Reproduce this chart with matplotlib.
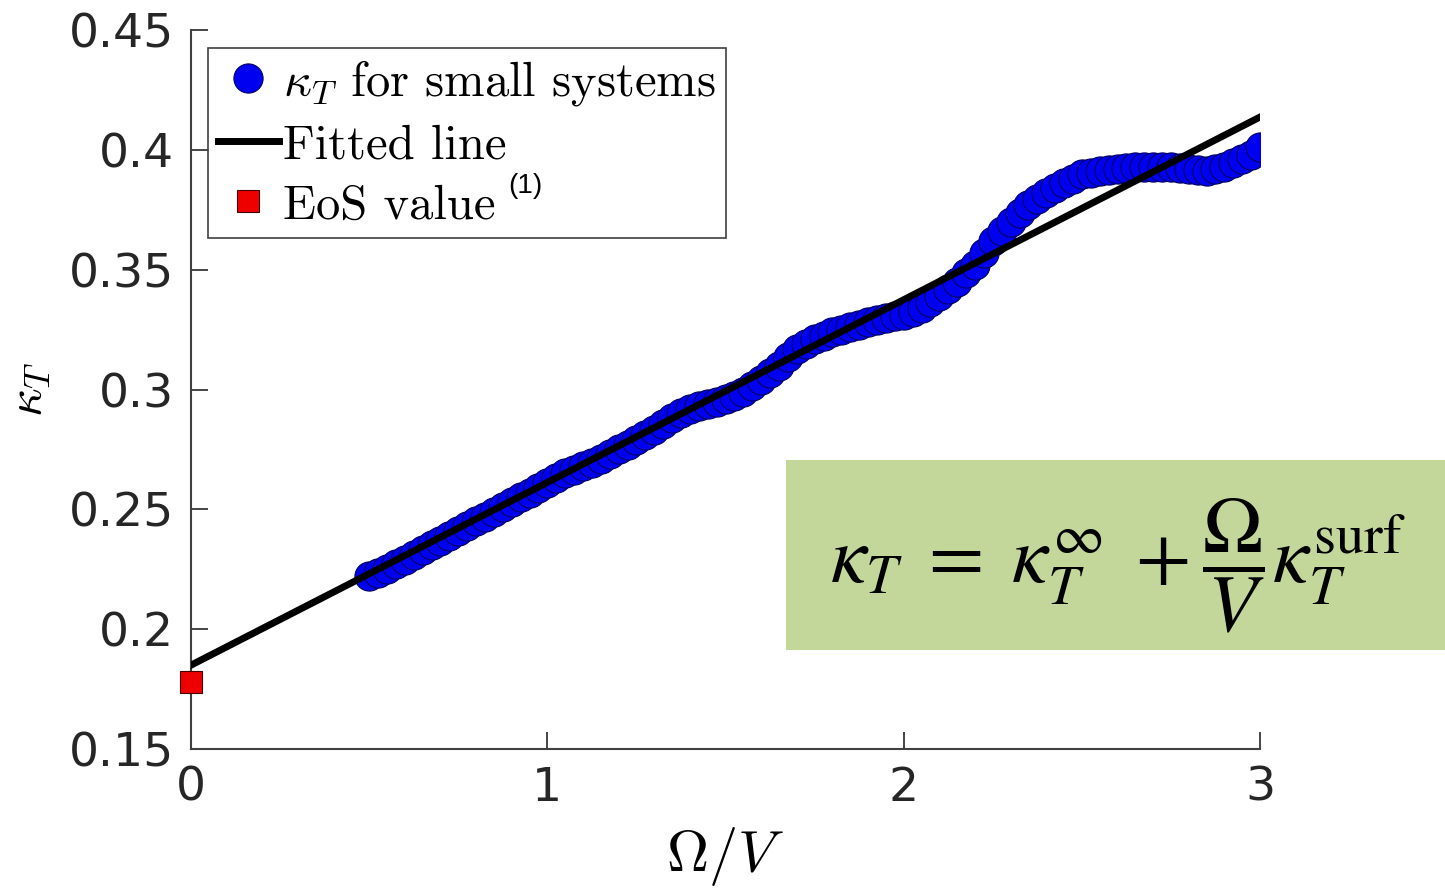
import matplotlib.pyplot as plt
from matplotlib.patches import Rectangle

# dados
x_small = [0.500, 0.525, 0.550, 0.575, 0.600, 0.625, 0.650, 0.675, 0.700, 0.725,
           0.750, 0.775, 0.800, 0.825, 0.850, 0.875, 0.900, 0.925, 0.950, 0.975,
           1.000, 1.025, 1.050, 1.075, 1.100, 1.125, 1.150, 1.175, 1.200, 1.225,
           1.250, 1.275, 1.300, 1.325, 1.350, 1.375, 1.400, 1.425, 1.450, 1.475,
           1.500, 1.525, 1.550, 1.575, 1.600, 1.625, 1.650, 1.675, 1.700, 1.725,
           1.750, 1.775, 1.800, 1.825, 1.850, 1.875, 1.900, 1.925, 1.950, 1.975,
           2.000, 2.025, 2.050, 2.075, 2.100, 2.125, 2.150, 2.175, 2.200, 2.225,
           2.250, 2.275, 2.300, 2.325, 2.350, 2.375, 2.400, 2.425, 2.450, 2.475,
           2.500, 2.525, 2.550, 2.575, 2.600, 2.625, 2.650, 2.675, 2.700, 2.725,
           2.750, 2.775, 2.800, 2.825, 2.850, 2.875, 2.900, 2.925, 2.950, 2.975, 3.000]
kappa_small = [0.2220, 0.2235, 0.2250, 0.2270, 0.2290, 0.2310, 0.2330, 0.2350, 0.2370, 0.2390,
               0.2410, 0.2430, 0.2450, 0.2470, 0.2490, 0.2510, 0.2530, 0.2550, 0.2570, 0.2590,
               0.2610, 0.2630, 0.2650, 0.2665, 0.2680, 0.2695, 0.2710, 0.2730, 0.2750, 0.2770,
               0.2790, 0.2810, 0.2830, 0.2855, 0.2880, 0.2900, 0.2920, 0.2930, 0.2940, 0.2950,
               0.2960, 0.2975, 0.2990, 0.3015, 0.3040, 0.3070, 0.3100, 0.3135, 0.3170, 0.3190,
               0.3210, 0.3225, 0.3240, 0.3250, 0.3260, 0.3270, 0.3280, 0.3290, 0.3300, 0.3305,
               0.3310, 0.3325, 0.3340, 0.3365, 0.3390, 0.3420, 0.3450, 0.3485, 0.3520, 0.3570,
               0.3620, 0.3660, 0.3700, 0.3735, 0.3770, 0.3795, 0.3820, 0.3840, 0.3860, 0.3880,
               0.3900, 0.3905, 0.3910, 0.3915, 0.3920, 0.3925, 0.3930, 0.3930, 0.3930, 0.3930,
               0.3930, 0.3925, 0.3920, 0.3915, 0.3910, 0.3920, 0.3930, 0.3945, 0.3960, 0.3980, 0.4010]

x_fit = [0.0, 3.0]
kappa_fit = [0.185, 0.4137]

x_eos = [0.0]
kappa_eos = [0.178]

xticks = [0, 1, 2, 3]
yticks = [0.15, 0.2, 0.25, 0.3, 0.35, 0.4, 0.45]
ytick_labels = ["0.15", "0.2", "0.25", "0.3", "0.35", "0.4", "0.45"]

plt.rcParams['mathtext.fontset'] = 'cm'

fig = plt.figure(figsize=(14.45, 8.88), dpi=100)
ax = fig.add_axes([0.1322, 0.1565, 0.7398, 0.8097])

ax.plot(x_small, kappa_small, 'o', color='#0000f0', markeredgecolor='#000060',
        markeredgewidth=0.8, markersize=21, label=r"$\kappa_T$ for small systems", zorder=2)
ax.plot(x_fit, kappa_fit, color='black', linewidth=5, label="Fitted line", zorder=3)
ax.plot(x_eos, kappa_eos, 's', color='#ee0000', markeredgecolor='#400000',
        markeredgewidth=0.8, markersize=16, label="EoS value", zorder=4, clip_on=False)

ax.set_xlim(0, 3)
ax.set_ylim(0.15, 0.45)
ax.set_xticks(xticks)
ax.set_xticklabels([str(t) for t in xticks])
ax.set_yticks(yticks)
ax.set_yticklabels(ytick_labels)
ax.tick_params(direction='in', length=12, width=1.2, labelsize=34, colors='#262626', pad=12)
for s in ['top', 'right']:
    ax.spines[s].set_visible(False)
for s in ['left', 'bottom']:
    ax.spines[s].set_color('#404040')
    ax.spines[s].set_linewidth(1.5)

ax.set_xlabel(r"$\Omega/V$", fontsize=42, labelpad=10)
ax.set_ylabel(r"$\kappa_T$", fontsize=36, labelpad=12)

leg = ax.legend(loc='upper left', bbox_to_anchor=(0.016, 0.975), prop={'family': 'cmr10', 'size': 35},
                handlelength=1.25, handletextpad=0.1, borderpad=0.2, labelspacing=0.33,
                fancybox=False, edgecolor='#404040', framealpha=1, borderaxespad=0)
leg.get_frame().set_linewidth(1.2)
fig.text(0.352, 0.791, "(1)", fontsize=20, family='Liberation Sans', color='black', va='center')

# caixa verde com a formula
fig.patches.append(Rectangle((786 / 1445, 1 - 650 / 888), 659 / 1445, 190 / 888,
                             transform=fig.transFigure, facecolor='#c4d79b', edgecolor='none'))
fig.text(0.7735, 0.363, r"$\kappa_T\;=\;\kappa_T^{\infty}\;+\dfrac{\Omega}{V}\kappa_T^{\mathrm{surf}}$",
         fontsize=58, math_fontfamily='stix', ha='center', va='center')

plt.savefig("out.png")
